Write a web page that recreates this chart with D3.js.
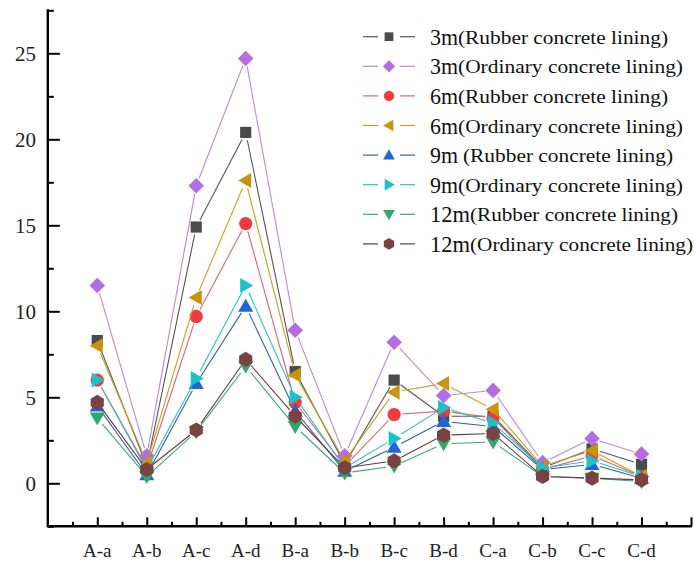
<!DOCTYPE html>
<html>
<head>
<meta charset="utf-8">
<script src="https://cdn.jsdelivr.net/npm/d3@7"></script>
<style>
  html, body { margin: 0; padding: 0; background: #fff; }
  svg { display: block; }
</style>
</head>
<body>
<svg id="chart" width="694" height="562"></svg>
<script>
// Measuring points along the tunnel lining
const categories = ["A-a", "A-b", "A-c", "A-d", "B-a", "B-b", "B-c", "B-d", "C-a", "C-b", "C-c", "C-d"];

// Values per burial depth and lining type
const rubber3m   = [8.3, 1.0, 14.9, 20.4, 6.5, 1.1, 6.0, 3.9, 3.9, 0.9, 2.0, 1.1];
const ordinary3m = [11.5, 1.6, 17.3, 24.7, 8.9, 1.6, 8.2, 5.1, 5.4, 1.2, 2.6, 1.7];
const rubber6m   = [6.0, 0.9, 9.7, 15.1, 4.7, 1.0, 4.0, 4.2, 3.8, 0.8, 1.6, 0.4];
const ordinary6m = [8.0, 1.2, 10.8, 17.6, 6.3, 1.3, 5.3, 5.8, 4.3, 1.0, 1.9, 0.4];
const rubber9m   = [4.5, 0.5, 5.8, 10.3, 4.2, 0.7, 2.1, 3.6, 3.3, 0.8, 1.1, 0.3];
const ordinary9m = [6.0, 0.8, 6.1, 11.5, 5.0, 0.9, 2.6, 4.4, 3.5, 0.9, 1.3, 0.4];
const rubber12m  = [3.8, 0.4, 3.0, 6.8, 3.3, 0.6, 1.0, 2.3, 2.4, 0.4, 0.3, 0.1];
const ordinary12m= [4.7, 0.8, 3.1, 7.2, 3.9, 0.9, 1.3, 2.8, 2.9, 0.4, 0.3, 0.2];

const depthLabels = ["3m", "3m", "6m", "6m", "9m ", "9m", "12m", "12m"];
const liningLabels = ["(Rubber concrete lining)", "(Ordinary concrete lining)",
                      "(Rubber concrete lining)", "(Ordinary concrete lining)",
                      "(Rubber concrete lining)", "(Ordinary concrete lining)",
                      "(Rubber concrete lining)", "(Ordinary concrete lining)"];
const yMajorTicks = [0, 5, 10, 15, 20, 25];
const yMinorTicks = [-2.5, 2.5, 7.5, 12.5, 17.5, 22.5, 27.5];

const seriesValues = [rubber3m, ordinary3m, rubber6m, ordinary6m, rubber9m, ordinary9m, rubber12m, ordinary12m];
const markerColors = ["#4b4b4b", "#b36ee0", "#ef3b3b", "#c9930b", "#1f66d8", "#1cc2c9", "#2ea86b", "#7a4242"];
const lineColors   = ["#555555", "#bb86e0", "#e0636b", "#c9a020", "#2f5fa8", "#2cc0c8", "#3aa878", "#6a3a3a"];
const markerKinds  = ["square", "diamond", "circle", "left", "up", "right", "down", "hexagon"];

const svg = d3.select("#chart");
const FONT = "'Liberation Serif', 'Times New Roman', serif";

const x = d3.scaleLinear().domain([-1, 12]).range([47.8, 691]);
const y = d3.scaleLinear().domain([-2.5, 27.5]).range([526.3, 10.3]);

function markerPath(kind, k) {
  const s = k || 1;
  switch (kind) {
    case "square":  { const h = 5.6 * s; return `M${-h},${-h}H${h}V${h}H${-h}Z`; }
    case "diamond": { const h = 7.8 * s; return `M0,${-h}L${h},0L0,${h}L${-h},0Z`; }
    case "circle":  return d3.symbol(d3.symbolCircle, Math.PI * Math.pow(6.6 * s, 2))();
    case "up":      return `M0,${-7.5*s}L${7.5*s},${5.5*s}L${-7.5*s},${5.5*s}Z`;
    case "down":    return `M0,${7.5*s}L${7.5*s},${-5.5*s}L${-7.5*s},${-5.5*s}Z`;
    case "left":    return `M${-7.5*s},0L${5.5*s},${-7.5*s}L${5.5*s},${7.5*s}Z`;
    case "right":   return `M${7.5*s},0L${-5.5*s},${-7.5*s}L${-5.5*s},${7.5*s}Z`;
    case "hexagon": {
      const r = 7.6 * s;
      const pts = d3.range(6).map(i => {
        const a = Math.PI / 3 * i - Math.PI / 2;
        return [r * Math.cos(a), r * Math.sin(a)];
      });
      return "M" + pts.map(p => p.join(",")).join("L") + "Z";
    }
  }
}

// Axes
const xAxisY = y(-2.5);
const yAxisX = x(-1);

const axes = svg.append("g");
// x axis: ticks point up into the plot
axes.append("g")
  .attr("transform", `translate(0,${xAxisY})`)
  .call(d3.axisBottom(x).tickValues(d3.range(0, 13)).tickSize(-9).tickFormat(""))
  .call(g => g.select(".domain").remove())
  .call(g => g.selectAll("line").attr("stroke", "#000").attr("stroke-width", 2));
axes.append("g")
  .attr("transform", `translate(0,${xAxisY})`)
  .call(d3.axisBottom(x).tickValues(d3.range(-0.5, 12, 1)).tickSize(-4.5).tickFormat(""))
  .call(g => g.select(".domain").remove())
  .call(g => g.selectAll("line").attr("stroke", "#000").attr("stroke-width", 2));

// y axis: ticks point right into the plot
axes.append("g")
  .attr("transform", `translate(${yAxisX},0)`)
  .call(d3.axisLeft(y).tickValues(yMajorTicks).tickSize(-12).tickFormat(""))
  .call(g => g.select(".domain").remove())
  .call(g => g.selectAll("line").attr("stroke", "#000").attr("stroke-width", 2));
axes.append("g")
  .attr("transform", `translate(${yAxisX},0)`)
  .call(d3.axisLeft(y).tickValues(yMinorTicks).tickSize(-6).tickFormat(""))
  .call(g => g.select(".domain").remove())
  .call(g => g.selectAll("line").attr("stroke", "#000").attr("stroke-width", 2));

axes.append("line")
  .attr("x1", yAxisX).attr("x2", x(12) + 1)
  .attr("y1", xAxisY).attr("y2", xAxisY)
  .attr("stroke", "#000").attr("stroke-width", 2.4);
axes.append("line")
  .attr("x1", yAxisX).attr("x2", yAxisX)
  .attr("y1", y(27.5) - 1).attr("y2", xAxisY + 1)
  .attr("stroke", "#000").attr("stroke-width", 2.4);

// tick labels
svg.append("g").selectAll("text")
  .data(yMajorTicks).join("text")
  .attr("x", 36).attr("y", d => y(d) + 7.5)
  .attr("text-anchor", "end")
  .attr("font-family", FONT).attr("font-size", 21).attr("fill", "#222")
  .text(d => d);

svg.append("g").selectAll("text")
  .data(categories).join("text")
  .attr("x", (d, i) => x(i)).attr("y", 557)
  .attr("text-anchor", "middle")
  .attr("font-family", FONT).attr("font-size", 19).attr("fill", "#222")
  .text(d => d);

// series: line segments stop short of the symbols
const gap = 8;
seriesValues.forEach((vals, si) => {
  const g = svg.append("g");
  const pts = vals.map((v, i) => [x(i), y(v)]);
  for (let i = 0; i < pts.length - 1; i++) {
    const [x1, y1] = pts[i], [x2, y2] = pts[i + 1];
    const len = Math.hypot(x2 - x1, y2 - y1);
    if (len <= 2 * gap) continue;
    const ux = (x2 - x1) / len, uy = (y2 - y1) / len;
    g.append("line")
      .attr("x1", x1 + ux * gap).attr("y1", y1 + uy * gap)
      .attr("x2", x2 - ux * gap).attr("y2", y2 - uy * gap)
      .attr("stroke", lineColors[si]).attr("stroke-width", 1.1);
  }
  g.selectAll("path")
    .data(pts).join("path")
    .attr("transform", d => `translate(${d[0]},${d[1]})`)
    .attr("d", markerPath(markerKinds[si]))
    .attr("fill", markerColors[si]);
});

// legend
const legend = svg.append("g");
const rowY = i => 36.7 + 29.6 * i;
depthLabels.forEach((lab, i) => {
  const cy = rowY(i);
  legend.append("line")
    .attr("x1", 363).attr("x2", 378).attr("y1", cy).attr("y2", cy)
    .attr("stroke", lineColors[i]).attr("stroke-width", 1.2);
  legend.append("line")
    .attr("x1", 400).attr("x2", 415).attr("y1", cy).attr("y2", cy)
    .attr("stroke", lineColors[i]).attr("stroke-width", 1.2);
  legend.append("path")
    .attr("transform", `translate(389,${cy})`)
    .attr("d", markerPath(markerKinds[i], 0.78))
    .attr("fill", markerColors[i]);
  const isTwelve = lab.startsWith("12");
  const prefixEnd = isTwelve ? 470 : (lab.endsWith(" ") ? 463 : 458);
  legend.append("text")
    .attr("x", 430).attr("y", cy + 8)
    .attr("font-family", FONT).attr("font-size", 23).attr("fill", "#111")
    .attr("textLength", prefixEnd - 430 - (lab.endsWith(" ") ? 5 : 0))
    .attr("lengthAdjust", "spacingAndGlyphs")
    .text(lab.trim());
  const ordinary = liningLabels[i].startsWith("(Ordinary");
  const end = (ordinary ? 683 : 668) + (isTwelve ? 10 : 0) + (lab.endsWith(" ") ? 5 : 0);
  legend.append("text")
    .attr("x", prefixEnd).attr("y", cy + 7)
    .attr("font-family", FONT).attr("font-size", 19).attr("fill", "#111")
    .attr("textLength", end - prefixEnd)
    .attr("lengthAdjust", "spacingAndGlyphs")
    .text(liningLabels[i]);
});
</script>
</body>
</html>
